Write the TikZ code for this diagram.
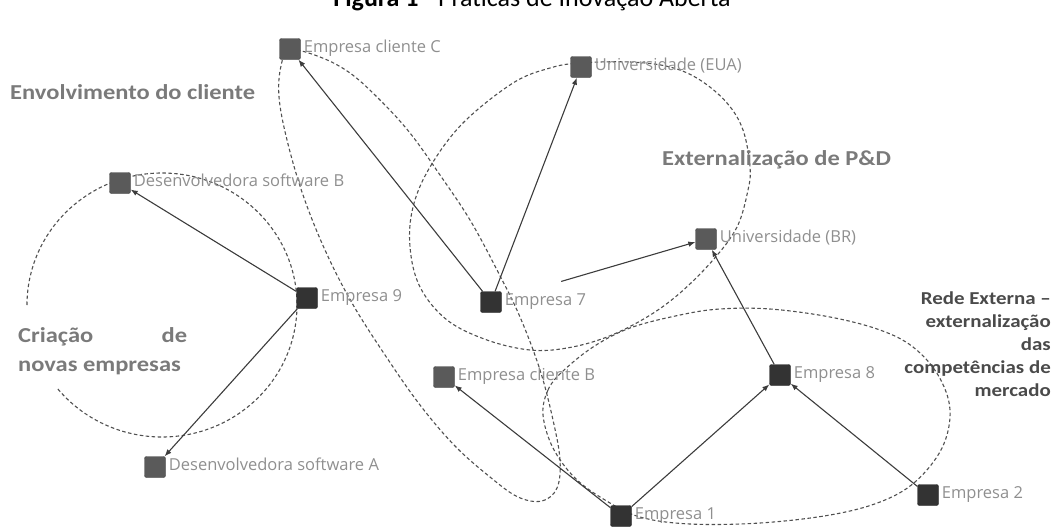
\documentclass[tikz,border=0pt]{standalone}
\usepackage{fontspec}
\setmainfont{Carlito}
\newfontfamily\regionfont[FakeStretch=1.15]{Carlito}
\newfontfamily\lblfont{Open Sans}
\usetikzlibrary{arrows.meta}
\definecolor{dk}{HTML}{333333}
\definecolor{md}{HTML}{5A5A5A}
\definecolor{lblgray}{HTML}{8F8F8F}
\definecolor{rggray}{HTML}{7A7A7A}
\definecolor{rgdark}{HTML}{4A4A4A}
\definecolor{edgec}{HTML}{3C3C3C}
\definecolor{dashc}{HTML}{505050}
\begin{document}
\begin{tikzpicture}[x=1pt,y=-1pt,
  sq/.style={draw=#1!70!black, fill=#1, minimum size=21pt, inner sep=0pt, rounded corners=2pt},
  lbl/.style={font=\lblfont\fontsize{16.5}{20}\selectfont, text=lblgray, inner sep=0pt, anchor=base west},
  region/.style={font=\regionfont\bfseries\fontsize{21.3}{29}\selectfont, text=rggray, inner sep=0pt, anchor=base west},
  rede/.style={font=\regionfont\bfseries\fontsize{18.2}{23}\selectfont, text=rgdark, inner sep=0pt, anchor=base east},
  conn/.style={draw=edgec, line width=1.1pt, -{Latex[length=7pt,width=5.5pt]}},
  zone/.style={draw=dashc, line width=1.1pt, dash pattern=on 3.5pt off 2.5pt}
]
\useasboundingbox (0,0) rectangle (1056,530);
\clip (0,0) rectangle (1056,530);

% title (cut at the top edge, as in the reference)
\node[anchor=base, inner sep=0pt, font=\fontsize{26}{30}\selectfont] (title) at (532,6) {\textbf{Figura 1} - Práticas de Inovação Aberta};

% zones
\draw[zone] (27,305) arc[start angle=180, end angle=-141, x radius=135pt, y radius=132pt];
\draw[zone] plot[smooth cycle, tension=0.6] coordinates {(290,50) (320,57) (350,73) (380,100) (410,133) (440,175) (470,220) (497,270) (520,317) (540,370) (553,420) (560,460) (557,488) (542,501) (518,497) (490,477) (455,446) (420,405) (385,355) (352,303) (325,250) (303,195) (287,140) (279,97) (281,66)};
\draw[zone] plot[smooth cycle, tension=0.6] coordinates {(580,63) (630,62) (670,67) (700,80) (727,103) (743,130) (750,167) (748,190) (737,227) (713,260) (680,293) (647,317) (607,337) (567,348) (530,350) (487,340) (447,320) (420,287) (410,247) (413,207) (430,167) (463,123) (513,83) (550,68)};
\draw[zone] plot[smooth cycle, tension=0.6] coordinates {(543,415) (548,390) (562,372) (593,347) (630,328) (680,315) (720,309) (770,309) (830,317) (880,330) (913,347) (938,375) (950,410) (942,448) (915,482) (880,502) (830,515) (760,523) (690,524) (640,517) (605,500) (575,478) (553,448)};

% region labels
\node[region] (envolv) at (10,99) {Envolvimento do cliente};
\node[region] (extern) at (662,165) {Externalização de P\&D};
\node[region] (criaA) at (18,342) {\makebox[169pt][s]{Criação de}};
\node[region] (criaB) at (18,371) {novas empresas};
\node[rede] (redeA) at (1051,304) {Rede Externa –};
\node[rede] (redeB) at (1051,327) {externalização};
\node[rede] (redeC) at (1051,350) {das};
\node[rede] (redeD) at (1051,373) {competências de};
\node[rede] (redeE) at (1051,396) {mercado};

% nodes
\node[sq=md] (cliC) at (290,49) {};
\node[sq=md] (eua) at (581,67) {};
\node[sq=md] (devB) at (120,183) {};
\node[sq=md] (br) at (706,239) {};
\node[sq=dk] (e9) at (307,298) {};
\node[sq=dk] (e7) at (491,302) {};
\node[sq=md] (cliB) at (444,377) {};
\node[sq=dk] (e8) at (780,375) {};
\node[sq=md] (devA) at (155,467) {};
\node[sq=dk] (e2) at (928,495) {};
\node[sq=dk] (e1) at (621,516) {};

\node[lbl] (cliCl) at ([xshift=3pt,yshift=-3.5pt]cliC.east) {Empresa cliente C};
\node[lbl] (eual) at ([xshift=3pt,yshift=-3.5pt]eua.east) {Universidade (EUA)};
\node[lbl] (devBl) at ([xshift=3pt,yshift=-3.5pt]devB.east) {Desenvolvedora software B};
\node[lbl] (brl) at ([xshift=3pt,yshift=-3.5pt]br.east) {Universidade (BR)};
\node[lbl] (e9l) at ([xshift=3pt,yshift=-3.5pt]e9.east) {Empresa 9};
\node[lbl] (e7l) at ([xshift=3pt,yshift=-3.5pt]e7.east) {Empresa 7};
\node[lbl] (cliBl) at ([xshift=3pt,yshift=-3.5pt]cliB.east) {Empresa cliente B};
\node[lbl] (e8l) at ([xshift=3pt,yshift=-3.5pt]e8.east) {Empresa 8};
\node[lbl] (devAl) at ([xshift=3pt,yshift=-3.5pt]devA.east) {Desenvolvedora software A};
\node[lbl] (e2l) at ([xshift=3pt,yshift=-3.5pt]e2.east) {Empresa 2};
\node[lbl] (e1l) at ([xshift=3pt,yshift=-3.5pt]e1.east) {Empresa 1};

% connectors
\draw[conn] (e9) -- (devB);
\draw[conn] (e9) -- (devA);
\draw[conn] (e7) -- (cliC);
\draw[conn] (e7) -- (eua);
\draw[conn, shorten <=62pt] (e7) -- (br);
\draw[conn] (e8) -- (br);
\draw[conn] (e1) -- (e8);
\draw[conn] (e2) -- (e8);
\draw[conn] (e1) -- (cliB);
\end{tikzpicture}
\end{document}
